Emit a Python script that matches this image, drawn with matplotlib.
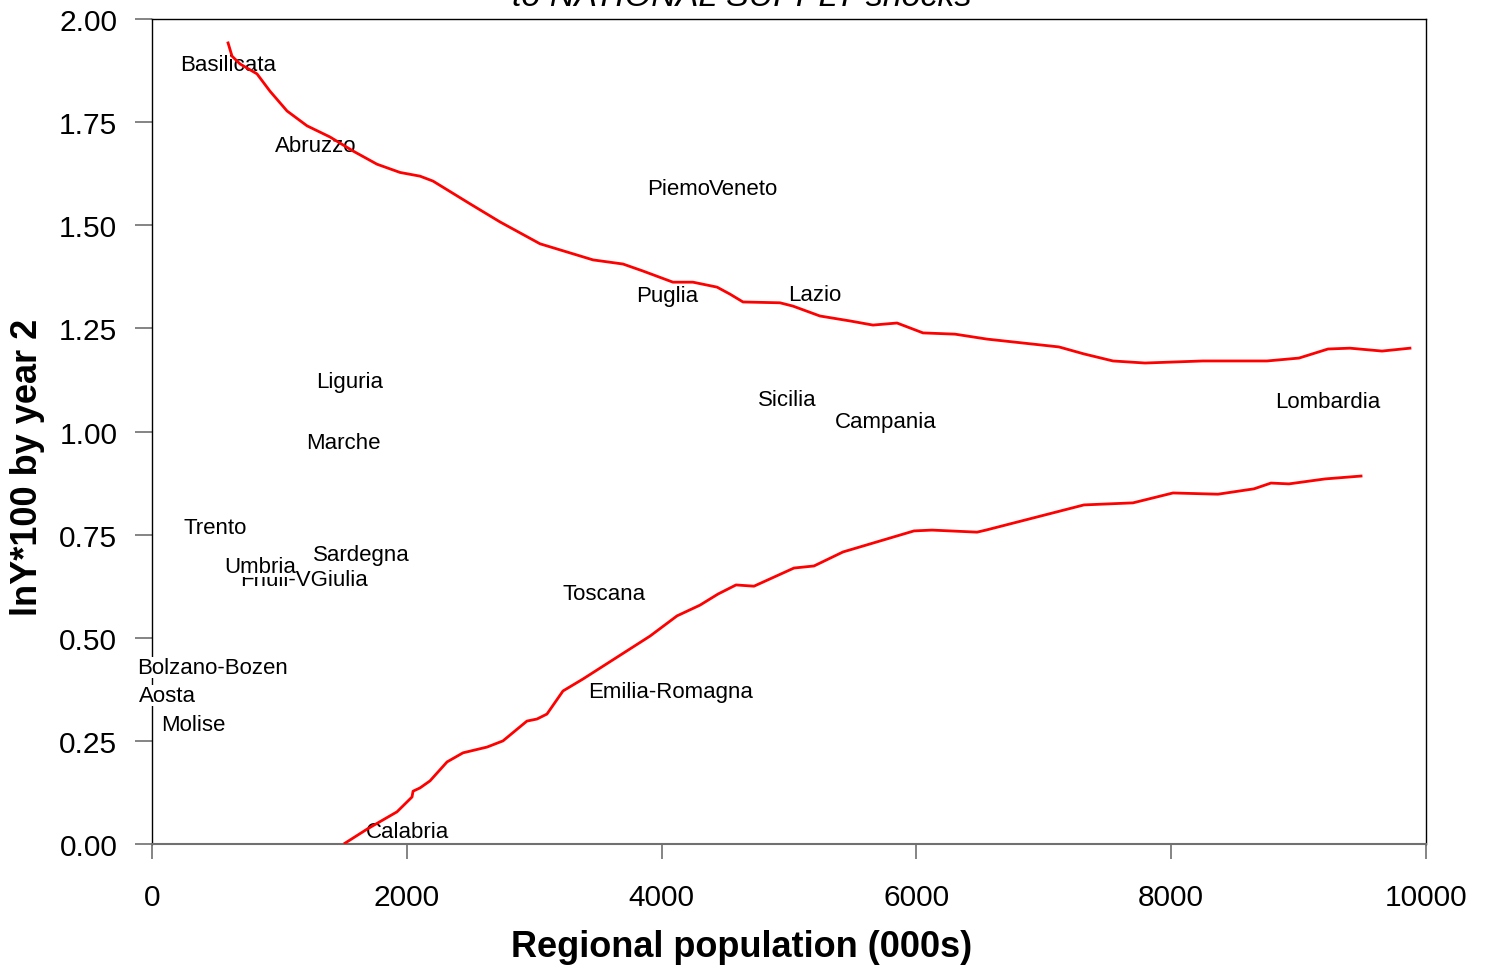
"""
Regional response to national supply shocks, by regional population.
"""

import matplotlib
matplotlib.use("Agg")
from matplotlib import pyplot as plt

plt.rcParams["font.family"] = ["Liberation Sans", "DejaVu Sans"]

# Region labels, placed at (population, response)
REGIONS = ["Basilicata", "Abruzzo", "Piemonte", "Veneto", "Puglia", "Lazio",
           "Liguria", "Sicilia", "Campania", "Lombardia", "Marche", "Trento",
           "Sardegna", "Friuli-VGiulia", "Umbria", "Toscana",
           "Bolzano-Bozen", "Aosta", "Molise", "Emilia-Romagna", "Calabria"]
POPULATION = [597, 1287, 4254, 4647, 4042, 5204,
              1554, 4984, 5761, 9231, 1499, 494,
              1640, 1193, 848, 3548,
              471, 120, 322, 4074, 2002]
RESPONSE = [1.896, 1.699, 1.595, 1.595, 1.336, 1.338,
            1.127, 1.084, 1.030, 1.079, 0.979, 0.773,
            0.708, 0.647, 0.679, 0.613,
            0.434, 0.366, 0.296, 0.376, 0.036]

# Upper fitted curve
UPPER_X = [597, 628, 691, 824, 926, 1060, 1217, 1397, 1578, 1766, 1947,
           2104, 2206, 2496, 2732, 3046, 3462, 3697, 3854, 4089, 4246,
           4435, 4537, 4639, 4929, 5031, 5243, 5479, 5659, 5848, 6052,
           6303, 6554, 7119, 7316, 7543, 7794, 8249, 8752, 9003, 9231,
           9403, 9655, 9874]
UPPER_Y = [1.942, 1.910, 1.891, 1.867, 1.825, 1.777, 1.741, 1.714, 1.680,
           1.648, 1.628, 1.619, 1.607, 1.552, 1.508, 1.455, 1.416, 1.406,
           1.389, 1.362, 1.362, 1.350, 1.333, 1.314, 1.312, 1.304, 1.280,
           1.268, 1.258, 1.263, 1.239, 1.236, 1.224, 1.205, 1.188, 1.171,
           1.166, 1.171, 1.171, 1.178, 1.200, 1.202, 1.195, 1.202]

# Lower fitted curve
LOWER_X = [1515, 1688, 1923, 2041, 2049, 2104, 2182, 2316, 2441, 2630,
           2755, 2943, 3022, 3100, 3226, 3383, 3909, 4121, 4301, 4443,
           4584, 4725, 5039, 5196, 5424, 5981, 6122, 6476, 6546, 7315,
           7700, 8014, 8367, 8650, 8783, 8924, 9207, 9490]
LOWER_Y = [0.002, 0.036, 0.078, 0.114, 0.128, 0.136, 0.153, 0.199, 0.221,
           0.235, 0.250, 0.298, 0.303, 0.315, 0.371, 0.400, 0.504, 0.553,
           0.579, 0.606, 0.628, 0.625, 0.669, 0.674, 0.708, 0.759, 0.761,
           0.756, 0.761, 0.822, 0.827, 0.851, 0.848, 0.861, 0.875, 0.873,
           0.885, 0.892]

X_TICKS = [0, 2000, 4000, 6000, 8000, 10000]
Y_TICKS = [0.0, 0.25, 0.5, 0.75, 1.0, 1.25, 1.5, 1.75, 2.0]

fig = plt.figure(figsize=(14.88, 9.70), dpi=100)
ax = fig.add_axes([152 / 1488, 1 - 845 / 970, 1274 / 1488, 825 / 970])

for name, x, y in zip(REGIONS, POPULATION, RESPONSE):
    ax.text(x, y, name, ha="center", va="center_baseline", fontsize=16,
            zorder=3,
            bbox=dict(boxstyle="square,pad=0", fc="white", ec="none"))

ax.plot(UPPER_X, UPPER_Y, color="red", lw=2.0, zorder=4,
        solid_joinstyle="round")
ax.plot(LOWER_X, LOWER_Y, color="red", lw=2.0, zorder=4,
        solid_joinstyle="round")

ax.set_xlim(0, 10000)
ax.set_ylim(0, 2)
ax.set_xticks(X_TICKS)
ax.set_xticklabels([str(t) for t in X_TICKS])
ax.set_yticks(Y_TICKS)
ax.set_yticklabels(["%.2f" % t for t in Y_TICKS])
ax.tick_params(axis="both", labelsize=21.5, color="#707070", width=1.2,
               direction="out")
ax.tick_params(axis="y", length=12, pad=13)
ax.tick_params(axis="x", length=11, pad=17)

for side in ["top", "right", "left"]:
    ax.spines[side].set_color("black")
    ax.spines[side].set_linewidth(1.0)
ax.spines["bottom"].set_color("#707070")
ax.spines["bottom"].set_linewidth(1.5)

ax.set_xlabel("Regional population (000s)", fontsize=26, fontweight="bold",
              va="center")
ax.xaxis.set_label_coords(0.463, -0.124)
ax.set_ylabel("lnY*100 by year 2", fontsize=26, fontweight="bold",
              va="center")
ax.yaxis.set_label_coords(-0.098, 0.458)

fig.text(742 / 1488, 1 - 6 / 970, "to NATIONAL SUPPLY shocks",
         ha="center", va="baseline", fontsize=24.5, style="italic")

fig.savefig("out.png", dpi=100)
